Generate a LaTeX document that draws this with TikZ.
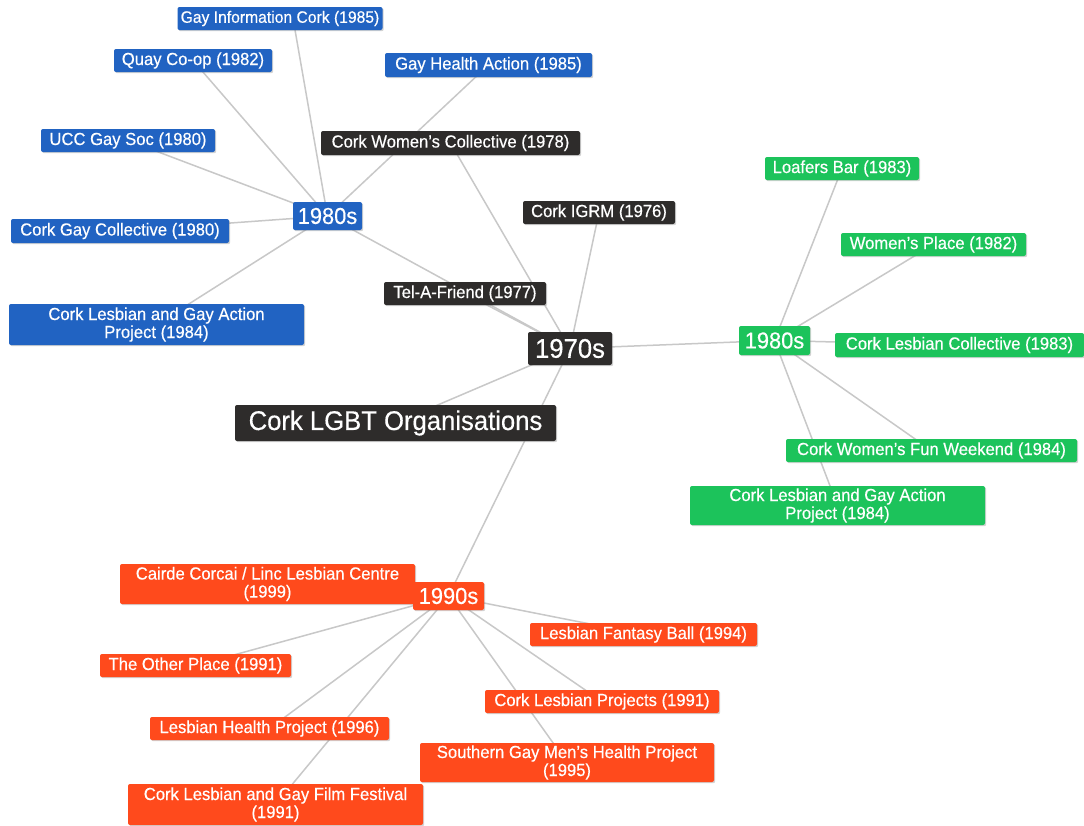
\documentclass[tikz,border=0pt]{standalone}
\usepackage{fontspec}
\setmainfont{Liberation Sans}[FakeStretch=0.95,FakeBold=0.35]
\usetikzlibrary{shadows,backgrounds}
\definecolor{cblue}{HTML}{2163C2}
\definecolor{cgreen}{HTML}{1CC35B}
\definecolor{corange}{HTML}{FF4A1C}
\definecolor{cdark}{HTML}{2E2C2B}
\definecolor{cedge}{HTML}{C8C8C8}
\tikzset{
  box/.style={rounded corners=2pt, inner sep=0pt, text=white, align=center,
    drop shadow={opacity=0.35, shadow xshift=1.2pt, shadow yshift=-1.2pt},
    font=\fontsize{17.5}{18}\selectfont},
  hub/.style={box, font=\fontsize{23}{24}\selectfont},
  big/.style={box, font=\fontsize{27}{30}\selectfont},
  bl/.style={fill=cblue}, gr/.style={fill=cgreen}, og/.style={fill=corange}, dk/.style={fill=cdark},
  sz/.style 2 args={minimum width=#1pt, minimum height=#2pt},
  edge/.style={draw=cedge, line width=1.5pt}
}
\begin{document}
\begin{tikzpicture}[x=1pt,y=-1pt]
\useasboundingbox (0,0) rectangle (1084,825);
% blue
\node[box,bl,sz={205}{23},font=\fontsize{16.5}{18}\selectfont] (gic) at (280,18.5) {Gay Information Cork (1985)};
\node[box,bl,sz={158}{23}] (quay) at (193,60.5) {Quay Co-op (1982)};
\node[box,bl,sz={207}{24}] (gha) at (488.5,65) {Gay Health Action (1985)};
\node[box,bl,sz={174}{23}] (ucc) at (128,140.5) {UCC Gay Soc (1980)};
\node[box,bl,sz={218}{24}] (cgc) at (120,231) {Cork Gay Collective (1980)};
\node[box,bl,sz={295}{41}] (clgapb) at (156.5,324.5) {Cork Lesbian and Gay Action\\Project (1984)};
% dark
\node[box,dk,sz={259}{24}] (cwc) at (450.5,143) {Cork Women's Collective (1978)};
\node[box,dk,sz={152}{23}] (igrm) at (599,212.5) {Cork IGRM (1976)};
\node[box,dk,sz={162}{23}] (taf) at (465,293.5) {Tel-A-Friend (1977)};
\node[hub,bl,sz={69}{28}] (b80) at (327.5,216) {1980s};
\node[big,dk,sz={84}{33}] (d70) at (570,348.5) {1970s};
\node[big,dk,sz={321}{36}] (root) at (395.5,423) {Cork LGBT Organisations};
% green
\node[box,gr,sz={154}{23}] (loaf) at (842,168.5) {Loafers Bar (1983)};
\node[box,gr,sz={185}{23}] (wp) at (933.5,244.5) {Women's Place (1982)};
\node[hub,gr,sz={71}{29}] (g80) at (774.5,340.5) {1980s};
\node[box,gr,sz={249}{24}] (clc) at (959.5,345) {Cork Lesbian Collective (1983)};
\node[box,gr,sz={291}{23}] (cwfw) at (931.5,450.5) {Cork Women's Fun Weekend (1984)};
\node[box,gr,sz={295}{39}] (clgapg) at (837.5,505.5) {Cork Lesbian and Gay Action\\Project (1984)};
% orange
\node[box,og,sz={295}{40}] (cairde) at (267.5,584) {Cairde Corcai / Linc Lesbian Centre\\(1999)};
\node[hub,og,sz={71}{28}] (o90) at (448.5,596) {1990s};
\node[box,og,sz={227}{23}] (lfb) at (643.5,634.5) {Lesbian Fantasy Ball (1994)};
\node[box,og,sz={191}{23}] (top) at (195.5,665.5) {The Other Place (1991)};
\node[box,og,sz={234}{23}] (clp) at (602,701.5) {Cork Lesbian Projects (1991)};
\node[box,og,sz={239}{23}] (lhp) at (269.5,728.5) {Lesbian Health Project (1996)};
\node[box,og,sz={294}{39}] (sgmhp) at (567,762.5) {Southern Gay Men's Health Project\\(1995)};
\node[box,og,sz={295}{41}] (clgff) at (275.5,804.5) {Cork Lesbian and Gay Film Festival\\(1991)};
\begin{pgfonlayer}{background}
\fill[white] (0,0) rectangle (1084,825);
\draw[edge] (root.center) -- (d70.center);
\foreach \n in {igrm,taf,cwc,b80,g80,o90} \draw[edge] (d70.center) -- (\n.center);
\draw[edge] (b80.center) -- ([xshift=13pt]gic.center);
\foreach \n in {quay,gha,ucc,cgc,clgapb} \draw[edge] (b80.center) -- (\n.center);
\foreach \n in {loaf,wp,clc,cwfw,clgapg} \draw[edge] (g80.center) -- (\n.center);
\foreach \n in {cairde,lfb,top,clp,lhp,sgmhp,clgff} \draw[edge] (o90.center) -- (\n.center);
\end{pgfonlayer}
\end{tikzpicture}
\end{document}
